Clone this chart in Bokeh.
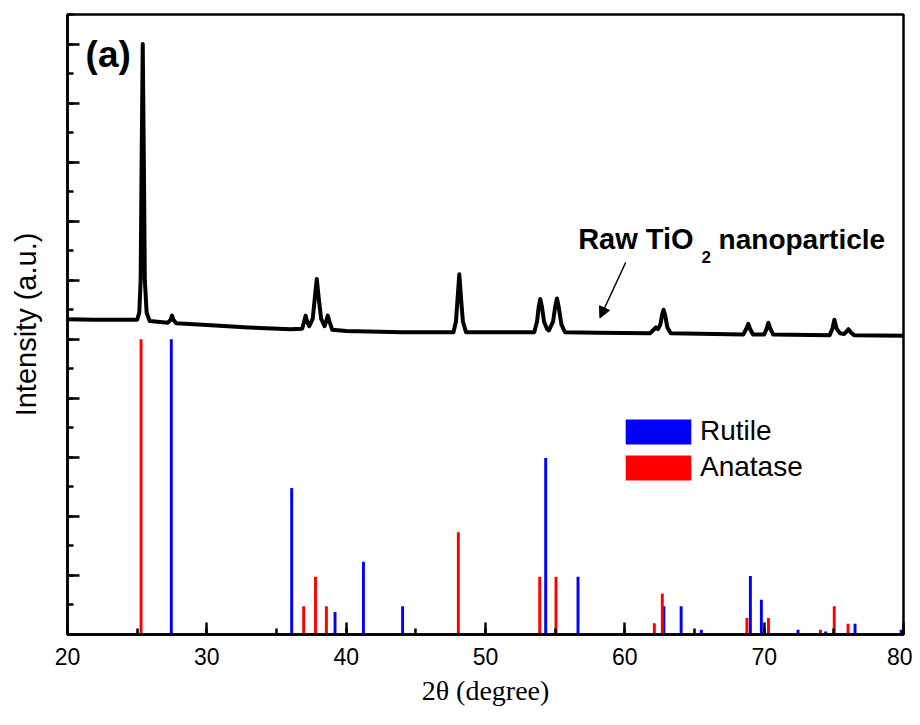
from bokeh.plotting import figure
from bokeh.models import (Range1d, SingleIntervalTicker, Label, Arrow, NormalHead,
                          Legend, LegendItem)
from bokeh.embed import file_html
from bokeh.resources import INLINE

# ---- measured XRD pattern of the raw TiO2 nanoparticles (2theta, intensity a.u.)
xrd_2theta = [20.0, 22.0, 24.0, 25.0, 25.15, 25.25, 25.32, 25.4, 25.48, 25.55, 25.68, 25.9,
              27.2, 27.4, 27.5, 27.6, 27.8, 30.0, 33.0, 36.0, 36.85, 37.0, 37.09, 37.2,
              37.35, 37.6, 37.75, 37.89, 38.03, 38.2, 38.45, 38.58, 38.68, 38.8, 39.0,
              40.0, 44.0, 47.7, 47.88, 48.0, 48.12, 48.24, 48.38, 48.6, 53.5, 53.7, 53.82,
              53.93, 54.05, 54.2, 54.4, 54.55, 54.85, 55.0, 55.13, 55.25, 55.45, 55.7,
              58.0, 61.8, 62.1, 62.23, 62.38, 62.55, 62.68, 62.78, 62.9, 63.05, 63.3,
              68.5, 68.7, 68.86, 69.0, 69.2, 70.0, 70.18, 70.3, 70.44, 70.65, 74.7,
              74.9, 75.04, 75.2, 75.45, 75.75, 75.95, 76.05, 76.2, 76.45, 80.0]
xrd_intensity = [5.34, 5.33, 5.33, 5.33, 5.45, 6.0, 8.0, 10.0, 8.0, 6.0, 5.45, 5.31,
                 5.28, 5.33, 5.40, 5.33, 5.27, 5.24, 5.20, 5.17, 5.18, 5.32, 5.40, 5.30,
                 5.22, 5.35, 5.70, 6.02, 5.70, 5.35, 5.22, 5.32, 5.40, 5.30, 5.16,
                 5.14, 5.12, 5.12, 5.30, 5.70, 6.10, 5.70, 5.30, 5.12, 5.12, 5.30, 5.55,
                 5.68, 5.55, 5.30, 5.18, 5.15, 5.30, 5.55, 5.69, 5.55, 5.25, 5.12,
                 5.11, 5.10, 5.17, 5.20, 5.17, 5.25, 5.42, 5.50, 5.40, 5.20, 5.10,
                 5.08, 5.17, 5.26, 5.17, 5.08, 5.08, 5.18, 5.28, 5.18, 5.08, 5.07,
                 5.18, 5.33, 5.18, 5.10, 5.09, 5.14, 5.17, 5.12, 5.07, 5.06]

# ---- reference patterns (stick positions and heights)
rutile_2theta = [27.45, 36.09, 39.20, 41.24, 44.05, 54.32, 56.64, 62.80, 64.04, 65.49,
                 69.01, 69.80, 72.43, 74.41, 76.52, 79.83]
rutile_int = [5.0, 2.48, 0.38, 1.23, 0.48, 2.99, 0.98, 0.48, 0.48, 0.08,
              0.99, 0.59, 0.08, 0.05, 0.18, 0.08]
anatase_2theta = [25.28, 36.95, 37.80, 38.58, 48.05, 53.89, 55.06, 62.12, 62.69, 68.76,
                  70.31, 74.04, 75.03, 76.02]
anatase_int = [5.0, 0.48, 0.98, 0.48, 1.73, 0.98, 0.98, 0.19, 0.69, 0.28,
               0.28, 0.08, 0.48, 0.18]

x_min, x_max = 20, 80
y_min, y_max = 0, 10.5

p = figure(width=912, height=716, output_backend="svg", toolbar_location=None,
           x_range=Range1d(x_min, x_max), y_range=Range1d(y_min, y_max),
           min_border_left=67, min_border_right=9, min_border_top=14, min_border_bottom=82)
p.xgrid.visible = False
p.ygrid.visible = False
p.outline_line_color = "black"
p.outline_line_width = 2.5
p.background_fill_color = "white"
p.border_fill_color = "white"

# axes
p.xaxis.ticker = SingleIntervalTicker(interval=10, num_minor_ticks=2)
p.yaxis.ticker = SingleIntervalTicker(interval=1, num_minor_ticks=2)
for ax in (p.xaxis[0], p.yaxis[0]):
    ax.axis_line_width = 2.5
    ax.axis_line_color = "black"
    ax.major_tick_line_width = 2.5
    ax.minor_tick_line_width = 2.5
    ax.major_tick_line_color = "black"
    ax.minor_tick_line_color = "black"
    ax.major_tick_in = 12
    ax.major_tick_out = 0
    ax.minor_tick_in = 6
    ax.minor_tick_out = 0
    ax.axis_label_text_font_style = "normal"
    ax.axis_label_text_color = "black"

p.xaxis.major_label_text_color = "black"
p.xaxis.major_label_text_font = "Liberation Sans"
p.xaxis.major_label_text_font_size = "23px"
p.xaxis.major_label_standoff = 13
p.xaxis.axis_label = "2θ (degree)"
p.xaxis.axis_label_text_font = "Liberation Serif"
p.xaxis.axis_label_text_font_size = "28px"
p.xaxis.axis_label_standoff = 7

# the y axis carries no numbers
p.yaxis.major_label_text_color = None
p.yaxis.major_label_text_font_size = "1px"
p.yaxis.major_label_standoff = 0
p.yaxis.axis_label = "Intensity (a.u.)"
p.yaxis.axis_label_text_font = "Liberation Sans"
p.yaxis.axis_label_text_font_size = "29px"
p.yaxis.axis_label_standoff = 26

# sticks
r_rut = p.vbar(x=rutile_2theta, top=rutile_int, bottom=0, width=0.21,
               fill_color="#0000ff", line_color=None)
r_ana = p.vbar(x=anatase_2theta, top=anatase_int, bottom=0, width=0.21,
               fill_color="#ff0000", line_color=None)

# XRD curve
p.line(xrd_2theta, xrd_intensity, line_color="black", line_width=4, line_join="round")

legend = Legend(items=[LegendItem(label="Rutile", renderers=[r_rut]),
                       LegendItem(label="Anatase", renderers=[r_ana])],
                location=(550, 151), glyph_width=82, glyph_height=31,
                label_text_font="Liberation Sans", label_text_font_size="28px",
                label_text_color="black",
                label_standoff=1, spacing=4, padding=0, margin=0,
                border_line_color=None, background_fill_alpha=0)
p.add_layout(legend)

# panel label
p.add_layout(Label(x=21.3, y=9.48, text="(a)", text_font="Liberation Sans",
                   text_font_size="37px", text_font_style="bold", text_color="black",
                   text_baseline="bottom"))

# annotation
p.add_layout(Label(x=56.65, y=6.42, text="Raw TiO", text_font="Liberation Sans",
                   text_font_size="29px", text_font_style="bold", text_color="black",
                   text_baseline="bottom"))
p.add_layout(Label(x=65.5, y=6.30, text="2", text_font="Liberation Sans",
                   text_font_size="17px", text_font_style="bold", text_color="black",
                   text_baseline="bottom"))
p.add_layout(Label(x=66.73, y=6.42, text="nanoparticle", text_font="Liberation Sans",
                   text_font_size="28px", text_font_style="bold", text_color="black",
                   text_baseline="bottom"))
p.add_layout(Arrow(x_start=60.06, y_start=6.30, x_end=58.21, y_end=5.36,
                   line_width=1.5, line_color="black",
                   end=NormalHead(size=11, fill_color="black", line_color="black", line_width=1)))

open("out.html", "w").write(file_html(p, INLINE))
